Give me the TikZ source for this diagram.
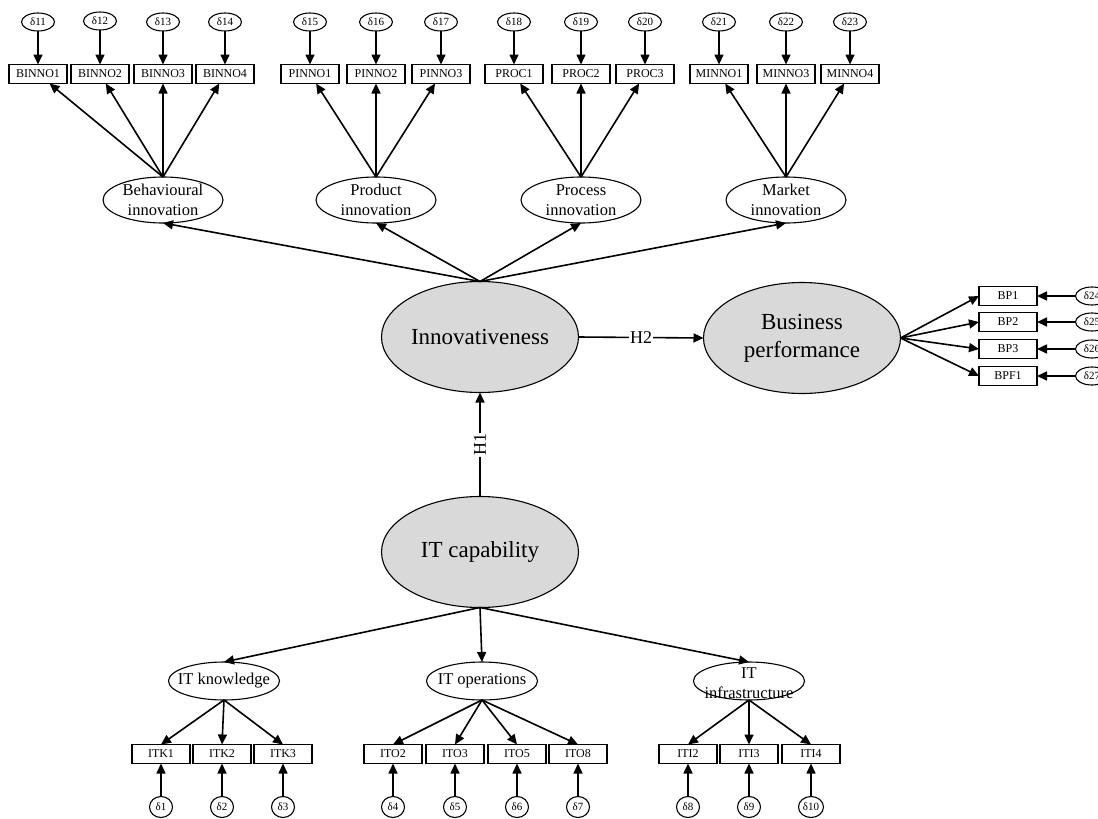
\documentclass[tikz,border=0pt]{standalone}
\usepackage{fontspec}
\setmainfont{Liberation Serif}
\usetikzlibrary{shapes.geometric,arrows.meta}
\definecolor{latgray}{HTML}{D9D9D9}
\begin{document}
\begin{tikzpicture}[x=1pt,y=-1pt,
 every node/.style={inner sep=0pt, outer sep=0pt},
 obs/.style={draw, line width=1.2pt, minimum width=58pt, minimum height=19pt, font=\fontsize{12}{14}\selectfont},
 err/.style={draw, ellipse, line width=1.1pt, minimum width=33pt, minimum height=18pt, font=\fontsize{11}{12}\selectfont},
 errc/.style={draw, ellipse, line width=1.1pt, minimum width=23pt, minimum height=21pt, font=\fontsize{11}{12}\selectfont},
 latshape/.style={draw, ellipse, line width=1.1pt, minimum width=120pt, minimum height=46pt},
 latsmall/.style={draw, ellipse, line width=1.1pt, minimum width=111pt, minimum height=38pt},
 lattext/.style={align=center, font=\fontsize{16.5}{20}\selectfont},
 big/.style={draw, ellipse, line width=1.1pt, fill=latgray, minimum width=197pt, minimum height=111pt, align=center, font=\fontsize{23}{28}\selectfont},
 arr/.style={-{Triangle[length=10pt,width=9pt]}, line width=1.6pt},
 hyp/.style={fill=white, inner sep=1pt, font=\fontsize{18}{20}\selectfont},
]
\useasboundingbox (0,0) rectangle (1098,819);

% ---------- big latents ----------
\node[big] (inn) at (480,337) {Innovativeness};
\node[big] (bus) at (802,338) {Business\\performance};
\node[big] (itc) at (480,552) {IT capability};

% ---------- first-order latents (top) ----------
\node[latshape] (bi) at (163,200) {};
\node[lattext] (bit) at (bi) {Behavioural\\innovation};
\node[latshape] (pi) at (376,200) {};
\node[lattext] (pit) at (pi) {Product\\innovation};
\node[latshape] (pr) at (581,200) {};
\node[lattext] (prt) at (pr) {Process\\innovation};
\node[latshape] (mi) at (786,200) {};
\node[lattext] (mit) at (mi) {Market\\innovation};

% ---------- first-order latents (bottom) ----------
\node[latsmall] (itk) at (224,681) {};
\node[lattext] (itkt) at (itk) {IT knowledge};
\node[latsmall] (ito) at (482,681) {};
\node[lattext] (itot) at (ito) {IT operations};
\node[latsmall] (iti) at (749,681) {};
\node[lattext] (itit) at (749,683) {IT\\infrastructure};

% ---------- top indicators ----------
\node[obs] (b1) at (38,74) {BINNO1};
\node[obs] (b2) at (100,74) {BINNO2};
\node[obs] (b3) at (163,74) {BINNO3};
\node[obs] (b4) at (225,74) {BINNO4};
\node[obs] (p1) at (310,74) {PINNO1};
\node[obs] (p2) at (376,74) {PINNO2};
\node[obs] (p3) at (441,74) {PINNO3};
\node[obs] (r1) at (514,74) {PROC1};
\node[obs] (r2) at (581,74) {PROC2};
\node[obs] (r3) at (645,74) {PROC3};
\node[obs] (m1) at (719,74) {MINNO1};
\node[obs] (m3) at (786,74) {MINNO3};
\node[obs] (m4) at (850,74) {MINNO4};

\node[err] (d11) at (38,22) {δ11};
\node[err] (d12) at (100,21) {δ12};
\node[err] (d13) at (163,22) {δ13};
\node[err] (d14) at (225,22) {δ14};
\node[err] (d15) at (310,22) {δ15};
\node[err] (d16) at (376,22) {δ16};
\node[err] (d17) at (441,22) {δ17};
\node[err] (d18) at (514,22) {δ18};
\node[err] (d19) at (581,22) {δ19};
\node[err] (d20) at (645,22) {δ20};
\node[err] (d21) at (719,22) {δ21};
\node[err] (d22) at (786,22) {δ22};
\node[err] (d23) at (850,22) {δ23};

% ---------- business performance indicators ----------
\node[obs] (bp1) at (1008,296) {BP1};
\node[obs] (bp2) at (1008,322) {BP2};
\node[obs] (bp3) at (1008,349) {BP3};
\node[obs] (bpf1) at (1008,376) {BPF1};
\node[err] (d24) at (1092,296) {δ24};
\node[err] (d25) at (1092,322) {δ25};
\node[err] (d26) at (1092,349) {δ26};
\node[err] (d27) at (1092,376) {δ27};

% ---------- bottom indicators ----------
\node[obs] (k1) at (161,754) {ITK1};
\node[obs] (k2) at (222,754) {ITK2};
\node[obs] (k3) at (283,754) {ITK3};
\node[obs] (o2) at (393,754) {ITO2};
\node[obs] (o3) at (455,754) {ITO3};
\node[obs] (o5) at (517,754) {ITO5};
\node[obs] (o8) at (578,754) {ITO8};
\node[obs] (i2) at (688,754) {ITI2};
\node[obs] (i3) at (749,754) {ITI3};
\node[obs] (i4) at (811,754) {ITI4};

\node[errc] (e1) at (161,807) {δ1};
\node[errc] (e2) at (222,807) {δ2};
\node[errc] (e3) at (283,807) {δ3};
\node[errc] (e4) at (393,807) {δ4};
\node[errc] (e5) at (455,807) {δ5};
\node[errc] (e6) at (517,807) {δ6};
\node[errc] (e7) at (578,807) {δ7};
\node[errc] (e8) at (688,807) {δ8};
\node[errc] (e9) at (749,807) {δ9};
\node[errc, minimum width=25pt] (e10) at (811,807) {δ10};

% ---------- structural paths ----------
\draw[arr] (inn.east) -- node[hyp] (h2) {H2} (bus.west);
\draw[arr] (itc.north) -- node[hyp, rotate=90] (h1) {H1} (inn.south);

\foreach \l in {bi,pi,pr,mi} \draw[arr] (inn.north) -- (\l.south);
\foreach \l in {itk,ito,iti} \draw[arr] (itc.south) -- (\l.north);

% ---------- loadings ----------
\foreach \b in {b1,b2,b3,b4} \draw[arr] (bi.north) -- (\b);
\foreach \b in {p1,p2,p3} \draw[arr] (pi.north) -- (\b);
\foreach \b in {r1,r2,r3} \draw[arr] (pr.north) -- (\b);
\foreach \b in {m1,m3,m4} \draw[arr] (mi.north) -- (\b);
\foreach \b in {bp1,bp2,bp3,bpf1} \draw[arr] (bus.east) -- (\b.west);
\foreach \b in {k1,k2,k3} \draw[arr] (itk.south) -- (\b.north);
\foreach \b in {o2,o3,o5,o8} \draw[arr] (ito.south) -- (\b.north);
\foreach \b in {i2,i3,i4} \draw[arr] (iti.south) -- (\b.north);

% ---------- errors ----------
\foreach \d/\b in {d11/b1,d12/b2,d13/b3,d14/b4,d15/p1,d16/p2,d17/p3,d18/r1,d19/r2,d20/r3,d21/m1,d22/m3,d23/m4}
  \draw[arr] (\d) -- (\b);
\foreach \d/\b in {d24/bp1,d25/bp2,d26/bp3,d27/bpf1}
  \draw[arr] (\d) -- (\b);
\foreach \d/\b in {e1/k1,e2/k2,e3/k3,e4/o2,e5/o3,e6/o5,e7/o8,e8/i2,e9/i3,e10/i4}
  \draw[arr] (\d) -- (\b);
\end{tikzpicture}
\end{document}
